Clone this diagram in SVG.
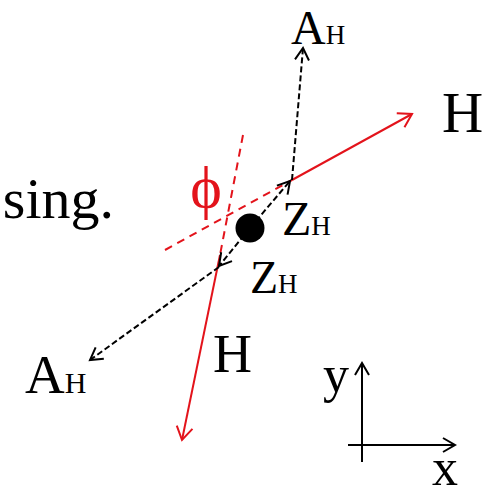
<svg xmlns="http://www.w3.org/2000/svg" width="490" height="490" viewBox="0 0 490 490">
<style>
text { font-family: "Liberation Serif", "Times New Roman", serif; fill: #000; }
.red { stroke: #e3131b; stroke-width: 2; fill: none; }
.rdash { stroke: #e3131b; stroke-width: 2; fill: none; stroke-dasharray: 8 6; }
.bdash { stroke: #000; stroke-width: 2; fill: none; stroke-dasharray: 6 3; }
.axis { stroke: #000; stroke-width: 2; fill: none; }
</style>
<defs>
<marker id="ab" markerUnits="userSpaceOnUse" markerWidth="30" markerHeight="30" refX="0" refY="0" viewBox="-15 -15 30 30" orient="auto" overflow="visible">
<path d="M -12 -7 L 0 0 L -12 7" stroke="#000" stroke-width="2" fill="none"/>
</marker>
<marker id="ar" markerUnits="userSpaceOnUse" markerWidth="30" markerHeight="30" refX="0" refY="0" viewBox="-15 -15 30 30" orient="auto" overflow="visible">
<path d="M -13 -8 L 0 0 L -13 8" stroke="#e3131b" stroke-width="2" fill="none"/>
</marker>
</defs>
<text id="sing" x="114" y="218" font-size="58" text-anchor="end">sing.</text>
<g id="connectors">
<line class="rdash" x1="165" y1="250" x2="292" y2="180"/>
<line class="rdash" x1="243" y1="135" x2="220" y2="255"/>
<line class="red" x1="292" y1="180" x2="412" y2="114" marker-end="url(#ar)"/>
<line class="red" x1="220" y1="255" x2="182" y2="440" marker-end="url(#ar)"/>
<line class="bdash" x1="250" y1="228" x2="290" y2="181" marker-end="url(#ab)"/>
<line class="bdash" x1="250" y1="228" x2="219" y2="266" marker-end="url(#ab)"/>
<line class="bdash" x1="292" y1="180" x2="303" y2="48" marker-end="url(#ab)"/>
<line class="bdash" x1="219" y1="267" x2="90" y2="360" marker-end="url(#ab)"/>
</g>
<g id="dot"><circle cx="250" cy="228" r="14.5" fill="#000"/></g>
<g id="axes">
<line class="axis" x1="362" y1="462" x2="362" y2="363" marker-end="url(#ab)"/>
<line class="axis" x1="348" y1="445" x2="455" y2="445" marker-end="url(#ab)"/>
<text x="323" y="392" font-size="52">y</text>
<text x="432" y="485" font-size="52">x</text>
</g>
<g id="labels">
<text x="291" y="44" font-size="48">A<tspan font-size="27">H</tspan></text>
<text x="442" y="132" font-size="57">H</text>
<text x="282" y="235" font-size="48">Z<tspan font-size="27">H</tspan></text>
<text x="250" y="293" font-size="46">Z<tspan font-size="27">H</tspan></text>
<text x="25" y="393" font-size="55">A<tspan font-size="30">H</tspan></text>
<text x="213" y="372" font-size="54">H</text>
<text x="206" y="207" font-size="60" text-anchor="middle" style="fill:#e3131b">ϕ</text>
</g>
</svg>
